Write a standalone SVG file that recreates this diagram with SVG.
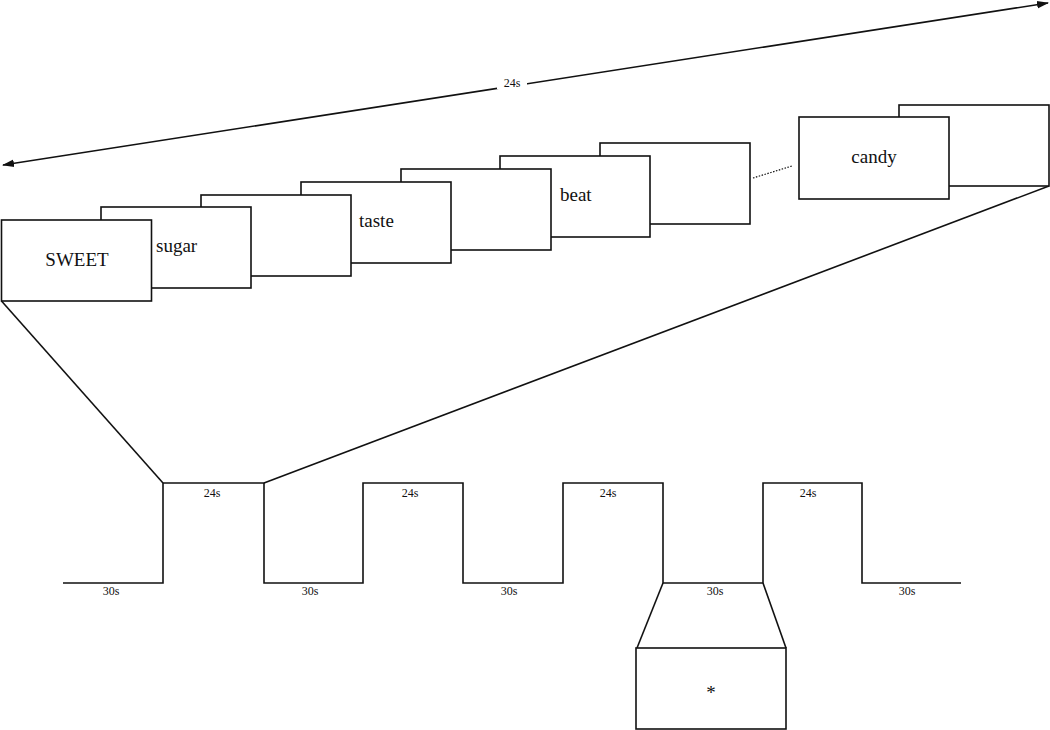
<svg xmlns="http://www.w3.org/2000/svg" width="1050" height="730" viewBox="0 0 1050 730">
<style>
.f{fill:#fff;stroke:#111;stroke-width:1.6}
.l{fill:none;stroke:#111;stroke-width:1.6}
.w{font-family:"Liberation Serif",serif;font-size:19px;fill:#111}
.s{font-family:"Liberation Serif",serif;font-size:12px;fill:#111;text-anchor:middle}
</style>
<defs>
<marker id="ah" viewBox="0 0 12 10" refX="11" refY="5" markerWidth="12" markerHeight="10" markerUnits="userSpaceOnUse" orient="auto-start-reverse">
<path d="M0,1.2 L12,5 L0,8.8 z" fill="#111"/>
</marker>
</defs>
<g id="connectors">
<line class="l" x1="3" y1="165" x2="1048" y2="3" marker-start="url(#ah)" marker-end="url(#ah)"/>
<rect x="497" y="75" width="30" height="14" fill="#fff"/>
<text class="s" x="512" y="87">24s</text>
<line class="l" x1="1.5" y1="301" x2="163" y2="483"/>
<line class="l" x1="1049" y1="186" x2="264" y2="483"/>
<line x1="753" y1="178" x2="792" y2="166" stroke="#111" stroke-width="1.2" stroke-dasharray="1.5,1.5"/>
<line class="l" x1="663" y1="583" x2="637" y2="648"/>
<line class="l" x1="763" y1="583" x2="786" y2="648"/>
</g>
<g id="waveform">
<polyline class="l" points="63,583 163,583 163,483 264,483 264,583 363,583 363,483 463,483 463,583 563,583 563,483 663,483 663,583 763,583 763,483 862,483 862,583 961,583"/>
<text class="s" x="212" y="497">24s</text>
<text class="s" x="410" y="497">24s</text>
<text class="s" x="608" y="497">24s</text>
<text class="s" x="808" y="497">24s</text>
<text class="s" x="111" y="595">30s</text>
<text class="s" x="310" y="595">30s</text>
<text class="s" x="509" y="595">30s</text>
<text class="s" x="715" y="595">30s</text>
<text class="s" x="907" y="595">30s</text>
</g>
<g id="frame7"><rect class="f" x="600" y="143" width="150" height="81"/></g>
<g id="frame6"><rect class="f" x="500" y="156" width="150" height="81"/><text class="w" x="560" y="201">beat</text></g>
<g id="frame5"><rect class="f" x="401" y="169" width="150" height="81"/></g>
<g id="frame4"><rect class="f" x="301" y="182" width="150" height="81"/><text class="w" x="359" y="227">taste</text></g>
<g id="frame3"><rect class="f" x="201" y="195" width="150" height="81"/></g>
<g id="frame2"><rect class="f" x="101" y="207" width="150" height="81"/><text class="w" x="156" y="252">sugar</text></g>
<g id="frame1"><rect class="f" x="1.5" y="220" width="150" height="81"/><text class="w" x="77" y="266" text-anchor="middle">SWEET</text></g>
<g id="frame9"><rect class="f" x="899" y="105" width="150" height="81"/></g>
<g id="frame8"><rect class="f" x="799" y="117" width="150" height="82"/><text class="w" x="874" y="163" text-anchor="middle">candy</text></g>
<g id="fixation"><rect class="f" x="636" y="648" width="150" height="81"/><text class="w" x="711" y="699" text-anchor="middle" font-size="22">*</text></g>
</svg>
